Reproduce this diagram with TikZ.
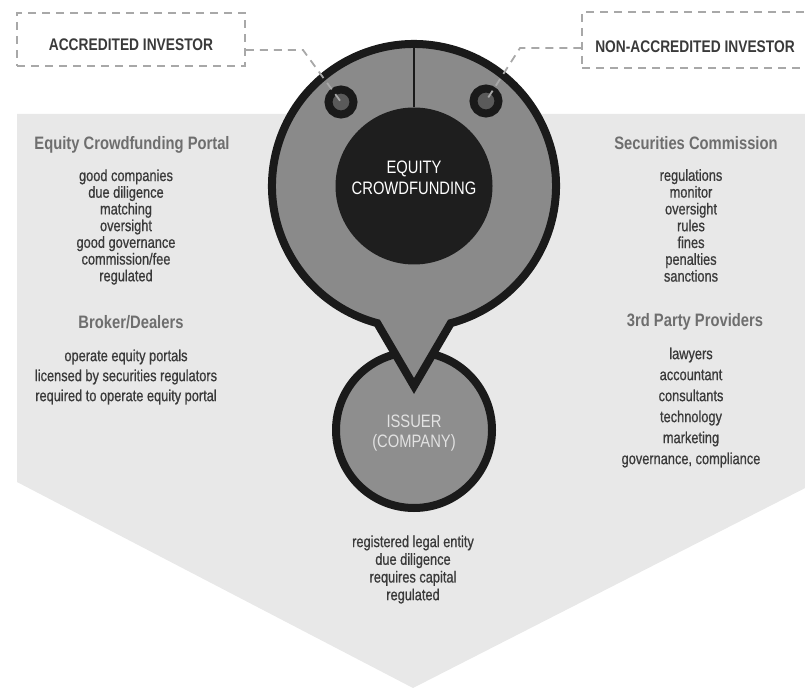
\documentclass[tikz,border=0pt]{standalone}
\usepackage{fontspec}
\setmainfont[FakeStretch=0.82]{Liberation Sans}
\newfontfamily\bodyfont[FakeStretch=0.80,FakeBold=0.7]{Liberation Sans}
\definecolor{bg}{HTML}{E8E8E8}
\definecolor{ring}{HTML}{1A1A1A}
\definecolor{pinfill}{HTML}{8A8A8A}
\definecolor{issfill}{HTML}{8E8E8E}
\definecolor{innerc}{HTML}{1E1E1E}
\definecolor{dotc}{HTML}{5A5A5A}
\definecolor{dashc}{HTML}{A8A8A8}
\definecolor{headc}{HTML}{6E6E6E}
\definecolor{bodyc}{HTML}{3A3A3A}
\definecolor{lighttext}{HTML}{E2E2E2}
\tikzset{
  dashbox/.style={draw=dashc, line width=1.5pt, dash pattern=on 8pt off 6pt, inner sep=0pt},
  boxtext/.style={font=\fontsize{16.8}{18}\selectfont\bfseries, text=bodyc, inner sep=0pt},
  conn/.style={draw=dashc, line width=1.8pt, dash pattern=on 8pt off 6pt},
  head/.style={font=\fontsize{18}{20}\selectfont\bfseries, text=headc, inner sep=0pt},
  items/.style={align=center, text=bodyc, inner sep=0pt},
  dot/.style={circle, draw=ring, line width=8pt, fill=dotc, minimum size=25pt, inner sep=0pt},
}
\begin{document}
\begin{tikzpicture}[x=1pt,y=-1pt]
\useasboundingbox (0,0) rectangle (805,692);
% background pentagon
\fill[bg] (17,114) -- (815,114) -- (815,483) -- (413,688) -- (17,482) -- cycle;
% issuer circle
\node[circle, draw=ring, line width=8pt, fill=issfill, minimum size=156pt, inner sep=0pt] (iss) at (414,430) {};
\node[align=center, text=lighttext, font=\fontsize{18}{20}\selectfont, inner sep=0pt] (isst) at (414,433) {ISSUER\\(COMPANY)};
% pin
\draw[ring, line width=8pt, fill=pinfill, line join=miter] (414,386) -- ([shift={(414,186)}]105:142) arc[start angle=105, end angle=435, radius=142] -- cycle;
\node[circle, fill=innerc, minimum size=157pt, inner sep=0pt] (ec) at (414,186) {};
\node[align=center, text=white, font=\fontsize{18}{21}\selectfont, inner sep=0pt] (ect) at (414,178) {EQUITY\\CROWDFUNDING};
\coordinate (ptop) at (414,42);
\draw[ring, line width=2pt] (ptop) -- (ec.north);
% small circles
\node[dot] (dl) at (341,102) {};
\node[dot] (dr) at (486,101) {};
% boxes
\node[dashbox, minimum width=228pt, minimum height=53pt] (acc) at (131,39.5) {};
\node[boxtext] (acct) at (131,45) {ACCREDITED INVESTOR};
\node[dashbox, minimum width=230pt, minimum height=56pt] (nacc) at (697,40) {};
\node[boxtext] (nacct) at (695,47) {NON-ACCREDITED INVESTOR};
% connectors
\coordinate (cl) at (303,50);
\coordinate (cr) at (520,48);
\draw[conn] ([yshift=-10.5pt]acc.east) -- (cl) -- (dl.center);
\draw[conn] ([yshift=-8pt]nacc.west) -- (cr) -- (dr.center);
% left column
\node[head] (h1) at (132,145) {Equity Crowdfunding Portal};
\node[items, font=\fontsize{16}{16.7}\selectfont\bodyfont] (l1) at (126,227) {good companies\\due diligence\\matching\\oversight\\good governance\\commission/fee\\regulated};
\node[head] (h2) at (131,322) {Broker/Dealers};
\node[items, font=\fontsize{16}{20}\selectfont\bodyfont] (l2) at (126,377) {operate equity portals\\licensed by securities regulators\\required to operate equity portal};
% right column
\node[head] (h3) at (696,143) {Securities Commission};
\node[items, font=\fontsize{16}{16.8}\selectfont\bodyfont] (r1) at (691,225.5) {regulations\\monitor\\oversight\\rules\\fines\\penalties\\sanctions};
\node[head] (h4) at (695,322) {3rd Party Providers};
\node[items, font=\fontsize{16}{21}\selectfont\bodyfont] (r2) at (691,407.5) {lawyers\\accountant\\consultants\\technology\\marketing\\governance, compliance};
% bottom
\node[items, font=\fontsize{16}{17.7}\selectfont\bodyfont] (b1) at (413,569.5) {registered legal entity\\due diligence\\requires capital\\regulated};
\end{tikzpicture}
\end{document}
